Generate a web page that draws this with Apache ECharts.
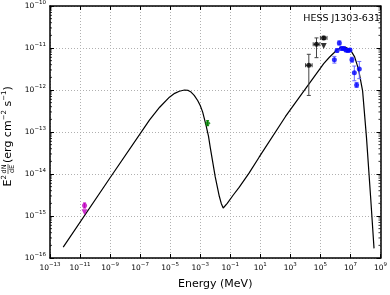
<!DOCTYPE html>
<html>
<head>
<meta charset="utf-8">
<script src="https://cdn.jsdelivr.net/npm/echarts@6/dist/echarts.min.js"></script>
<style>html,body{margin:0;padding:0;background:#fff;}#c{width:390px;height:295px;}</style>
</head>
<body>
<div id="c"></div>
<script>
// All values are log10 (energy in MeV, flux in erg cm^-2 s^-1)
const xTickExps = [-13, -11, -9, -7, -5, -3, -1, 1, 3, 5, 7, 9];
const yTickExps = [-16, -15, -14, -13, -12, -11, -10];

const curveLogE = [-12.12, -9.0, -6.37, -5.7, -5.05, -4.7, -4.39, -4.05, -3.8, -3.61, -3.4, -3.17, -3.0, -2.84, -2.62, -2.45, -2.33, -2.0, -1.73, -1.6, -1.47, -1.35, -1.2, -0.8, -0.41, 0.25, 0.92, 2.68, 4.23, 5.22, 5.6, 5.89, 6.1, 6.35, 6.68, 7.01, 7.28, 7.54, 7.81, 8.07, 8.34, 8.57];
const curveLogF = [-15.74, -14.09, -12.71, -12.41, -12.17, -12.08, -12.03, -12.0, -12.01, -12.05, -12.13, -12.25, -12.37, -12.52, -12.83, -13.1, -13.37, -14.07, -14.53, -14.70, -14.81, -14.79, -14.70, -14.50, -14.32, -13.98, -13.6, -12.63, -11.86, -11.37, -11.22, -11.12, -11.04, -10.99, -10.98, -11.05, -11.21, -11.51, -12.02, -13.14, -14.53, -15.77];

const blueLogE = [5.93, 6.11, 6.26, 6.40, 6.55, 6.70, 6.83, 6.97, 7.10, 7.26, 7.41, 7.59];
const blueLogF = [-11.28, -11.06, -10.88, -11.01, -11.01, -11.05, -11.06, -11.05, -11.28, -11.59, -11.88, -11.50];
const blueLo   = [-11.36, -11.10, -10.93, -11.05, -11.05, -11.09, -11.10, -11.09, -11.34, -11.78, -11.94, -11.73];
const blueHi   = [-11.20, -11.02, -10.83, -10.97, -10.97, -11.01, -11.02, -11.01, -11.22, -11.43, -11.82, -11.32];

const blackLogE = [4.23, 4.74, 5.22];
const blackLogF = [-11.41, -10.91, -10.76];
const blackLo   = [-12.13, -11.23, -10.80];
const blackHi   = [-11.15, -10.76, -10.72];
const blackELo  = [4.01, 4.52, 5.00];
const blackEHi  = [4.45, 4.96, 5.44];
const blackULE = [5.22];
const blackULF = [-10.95];

const magLogE = [-10.70];
const magLogF = [-14.75];
const magLo = [-14.81];
const magHi = [-14.69];
const magULE = [-10.70];
const magULF = [-14.91];

const greenLogE = [-2.51];
const greenLogF = [-12.79];
const greenLo = [-12.85];
const greenHi = [-12.73];

const FONT = 'DejaVu Sans';
const fmtExp = v => { const n = Math.round(v); return (n < 0 ? '\u2212' : '') + Math.abs(n); };
const tickRich = {
  b: {fontSize: 7.5, fontFamily: FONT, color: '#000', lineHeight: 12},
  s: {fontSize: 5.5, fontFamily: FONT, color: '#000', lineHeight: 6, verticalAlign: 'top'}
};

// minor tick positions (log10 of k*10^n) along the flux axis
const minorYTicks = [];
for (let n = -16; n < -10; n++) for (let k = 2; k <= 9; k++) minorYTicks.push(n + Math.log10(k));

function zip(...arrs) { return arrs[0].map((_, i) => arrs.map(a => a[i])); }

function errRender(color, cap) {
  return function (params, api) {
    const x = api.value(0), y = api.value(1), lo = api.value(2), hi = api.value(3);
    const xlo = api.value(4), xhi = api.value(5);
    const ch = [];
    const st = {stroke: color, lineWidth: 1};
    const a = api.coord([x, lo]), b = api.coord([x, hi]);
    ch.push({type: 'line', shape: {x1: a[0], y1: a[1], x2: b[0], y2: b[1]}, style: st});
    ch.push({type: 'line', shape: {x1: a[0] - cap, y1: a[1], x2: a[0] + cap, y2: a[1]}, style: st});
    ch.push({type: 'line', shape: {x1: b[0] - cap, y1: b[1], x2: b[0] + cap, y2: b[1]}, style: st});
    if (!isNaN(xlo) && xlo !== x) {
      const c = api.coord([xlo, y]), d = api.coord([xhi, y]);
      ch.push({type: 'line', shape: {x1: c[0], y1: c[1], x2: d[0], y2: d[1]}, style: st});
      ch.push({type: 'line', shape: {x1: c[0], y1: c[1] - cap, x2: c[0], y2: c[1] + cap}, style: st});
      ch.push({type: 'line', shape: {x1: d[0], y1: d[1] - cap, x2: d[0], y2: d[1] + cap}, style: st});
    }
    return {type: 'group', children: ch};
  };
}

function minorTickRender(params, api) {
  const v = api.value(1);
  const l = api.coord([-13, v]), r = api.coord([9, v]);
  const st = {stroke: '#000', lineWidth: 0.8};
  return {type: 'group', children: [
    {type: 'line', shape: {x1: l[0], y1: l[1], x2: l[0] + 2, y2: l[1]}, style: st},
    {type: 'line', shape: {x1: r[0] - 2, y1: r[1], x2: r[0], y2: r[1]}, style: st}
  ]};
}

const chart = echarts.init(document.getElementById('c'), null, {renderer: 'canvas'});
const grid = {left: 50, right: 8, top: 5, bottom: 32};
const axisCommon = {
  type: 'value',
  axisLine: {show: true, onZero: false, lineStyle: {color: '#000', width: 1.5}},
  axisTick: {show: true, inside: true, length: 4, lineStyle: {color: '#000', width: 1}},
  splitLine: {show: false}
};

chart.setOption({
  animation: false,
  backgroundColor: '#fff',
  title: {
    text: 'HESS J1303-631', right: 5, top: 9,
    textStyle: {fontFamily: FONT, fontSize: 9.5, fontWeight: 'normal', color: '#000'}
  },
  grid: grid,
  xAxis: [
    Object.assign({}, axisCommon, {
      position: 'bottom', min: -13, max: 9, interval: 2,
      name: 'Energy (MeV)', nameLocation: 'middle', nameGap: 21,
      nameTextStyle: {fontFamily: FONT, fontSize: 11, color: '#000'},
      splitLine: {show: true, lineStyle: {color: '#b0b0b0', type: [1, 2], width: 1}},
      axisLabel: {show: true, margin: 4, showMinLabel: true, showMaxLabel: true,
        formatter: v => '{b|10}{s|' + fmtExp(v) + '}', rich: tickRich}
    }),
    Object.assign({}, axisCommon, {
      position: 'top', min: -13, max: 9, interval: 2, axisLabel: {show: false}
    })
  ],
  yAxis: [
    Object.assign({}, axisCommon, {
      position: 'left', min: -16, max: -10, interval: 1,
      splitLine: {show: true, lineStyle: {color: '#b0b0b0', type: [1, 2], width: 1}},
      axisLabel: {show: true, margin: 4, showMinLabel: true, showMaxLabel: true,
        formatter: v => '{b|10}{s|' + fmtExp(v) + '}', rich: tickRich}
    }),
    Object.assign({}, axisCommon, {
      position: 'right', min: -16, max: -10, interval: 1, axisLabel: {show: false}
    })
  ],
  graphic: [{
    type: 'group', x: 8, y: 134, rotation: Math.PI / 2,
    children: [
      {type: 'text', x: -41, y: 0, style: {text: '{b|E}{s|2}', align: 'right', verticalAlign: 'middle',
        rich: {b: {fontSize: 11, fontFamily: FONT, color: '#000', lineHeight: 14},
               s: {fontSize: 7, fontFamily: FONT, color: '#000', lineHeight: 8, verticalAlign: 'top'}}}},
      {type: 'text', x: -35, y: -4, style: {text: 'dN', fontSize: 6.5, fontFamily: FONT, fill: '#000', align: 'center', verticalAlign: 'middle'}},
      {type: 'line', shape: {x1: -40, y1: 0, x2: -30, y2: 0}, style: {stroke: '#000', lineWidth: 0.6}},
      {type: 'text', x: -35, y: 4.5, style: {text: 'dE', fontSize: 6.5, fontFamily: FONT, fill: '#000', align: 'center', verticalAlign: 'middle'}},
      {type: 'text', x: -29, y: 0, style: {text: '{b|(erg cm}{s|\u22122}{b| s}{s|\u22121}{b|)}', align: 'left', verticalAlign: 'middle',
        rich: {b: {fontSize: 11, fontFamily: FONT, color: '#000', lineHeight: 14},
               s: {fontSize: 7, fontFamily: FONT, color: '#000', lineHeight: 8, verticalAlign: 'top'}}}}
    ]
  }],
  series: [
    {type: 'custom', data: minorYTicks.map(v => [-13, v]), renderItem: minorTickRender,
     encode: {x: 0, y: 1}, silent: true, z: 6},
    {type: 'line', data: zip(curveLogE, curveLogF), showSymbol: false, symbol: 'none',
     lineStyle: {color: '#000', width: 1.2}, z: 3},
    {type: 'custom', data: zip(blueLogE, blueLogF, blueLo, blueHi), renderItem: errRender('#6a6aff', 2),
     encode: {x: 0, y: 1}, z: 4},
    {type: 'scatter', data: zip(blueLogE, blueLogF), symbol: 'circle', symbolSize: 5,
     itemStyle: {color: '#0000ff'}, z: 5},
    {type: 'custom', data: zip(blackLogE, blackLogF, blackLo, blackHi, blackELo, blackEHi), renderItem: errRender('#444', 2),
     encode: {x: 0, y: 1}, z: 4},
    {type: 'scatter', data: zip(blackLogE, blackLogF), symbol: 'circle', symbolSize: 5,
     itemStyle: {color: '#000'}, z: 5},
    {type: 'scatter', data: zip(blackULE, blackULF), symbol: 'triangle', symbolRotate: 180, symbolSize: 6,
     itemStyle: {color: '#000'}, z: 5},
    {type: 'custom', data: zip(magLogE, magLogF, magLo, magHi), renderItem: errRender('#bf00bf', 1.5),
     encode: {x: 0, y: 1}, z: 4},
    {type: 'scatter', data: zip(magLogE, magLogF), symbol: 'circle', symbolSize: 5,
     itemStyle: {color: '#bf00bf'}, z: 5},
    {type: 'scatter', data: zip(magULE, magULF), symbol: 'triangle', symbolRotate: 180, symbolSize: 6,
     itemStyle: {color: '#bf00bf'}, z: 5},
    {type: 'custom', data: zip(greenLogE, greenLogF, greenLo, greenHi), renderItem: errRender('#008000', 1.5),
     encode: {x: 0, y: 1}, z: 4},
    {type: 'scatter', data: zip(greenLogE, greenLogF), symbol: 'diamond', symbolSize: 6,
     itemStyle: {color: '#008000'}, z: 5}
  ]
});
</script>
</body>
</html>
